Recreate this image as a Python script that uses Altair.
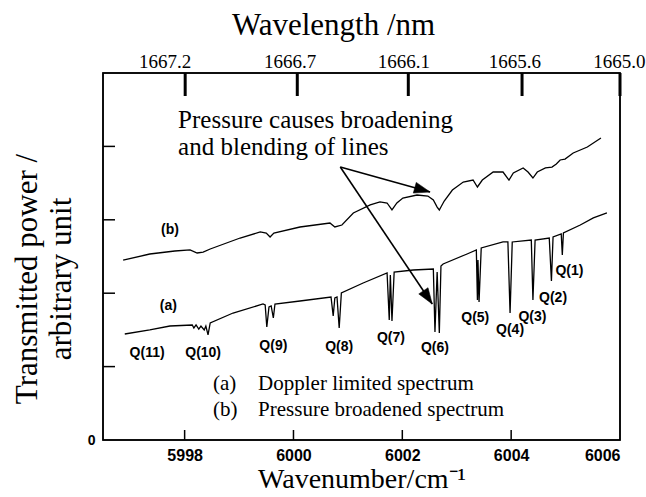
import math
import altair as alt
import pandas as pd

# Spectrum (b): pressure broadened
b_wn = [5996.87, 5997.36, 5997.82, 5998.10, 5998.23, 5998.34, 5998.47, 5999.02, 5999.39,
        5999.50, 5999.57, 5999.64, 6000.12, 6000.67, 6000.76, 6000.89, 6001.10, 6001.41,
        6001.59, 6001.72, 6001.81, 6001.90, 6002.01, 6002.27, 6002.47, 6002.57, 6002.64,
        6002.68, 6002.71, 6002.77, 6002.92, 6003.12, 6003.30, 6003.38, 6003.47, 6003.67,
        6003.85, 6003.96, 6004.04, 6004.22, 6004.31, 6004.40, 6004.48, 6004.63, 6004.75,
        6004.83, 6004.90, 6004.99, 6005.14, 6005.40, 6005.65]
b_pw = [2.452, 2.534, 2.575, 2.589, 2.548, 2.561, 2.602, 2.752, 2.834,
        2.820, 2.766, 2.820, 2.902, 2.956, 2.902, 2.929, 3.093, 3.202,
        3.243, 3.229, 3.134, 3.229, 3.297, 3.338, 3.324, 3.270, 3.174,
        3.134, 3.174, 3.256, 3.406, 3.515, 3.542, 3.447, 3.542, 3.651,
        3.651, 3.542, 3.638, 3.706, 3.651, 3.569, 3.651, 3.706, 3.719,
        3.760, 3.815, 3.828, 3.910, 3.992, 4.114]

# Spectrum (a): Doppler limited
a_wn = [5996.90, 5997.36, 5997.73, 5998.14, 5998.17, 5998.21, 5998.26, 5998.30, 5998.36,
        5998.39, 5998.43, 5998.47, 5998.89, 5999.44, 5999.48, 5999.51, 5999.55, 5999.59,
        5999.63, 5999.66, 6000.12, 6000.69, 6000.73, 6000.76, 6000.80, 6000.84, 6000.88,
        6001.28, 6001.72, 6001.76, 6001.78, 6001.81, 6001.85, 6002.20, 6002.57, 6002.60,
        6002.64, 6002.68, 6002.71, 6002.75, 6003.19, 6003.36, 6003.38, 6003.39, 6003.41,
        6003.45, 6003.85, 6003.94, 6003.98, 6004.02, 6004.37, 6004.40, 6004.44, 6004.70,
        6004.74, 6004.77, 6004.92, 6004.94, 6004.96, 6005.27, 6005.51, 6005.76]
a_pw = [1.444, 1.499, 1.553, 1.567, 1.526, 1.567, 1.512, 1.553, 1.499,
        1.553, 1.431, 1.594, 1.730, 1.853, 1.839, 1.540, 1.812, 1.826,
        1.662, 1.853, 1.894, 1.948, 1.689, 1.935, 1.948, 1.526, 2.003,
        2.139, 2.275, 1.635, 2.248, 1.621, 2.289, 2.316, 2.330, 1.471,
        2.289, 1.458, 2.371, 2.398, 2.534, 2.589, 1.907, 2.452, 1.880,
        2.616, 2.698, 2.698, 1.730, 2.698, 2.725, 1.907, 2.725, 2.752,
        2.166, 2.766, 2.807, 2.520, 2.820, 2.929, 3.025, 3.093]

# Q-branch line labels
q_names = ["Q(11)", "Q(10)", "Q(9)", "Q(8)", "Q(7)", "Q(6)", "Q(5)", "Q(4)", "Q(3)", "Q(2)", "Q(1)"]
q_wn = [5997.31, 5998.34, 5999.63, 6000.84, 6001.79, 6002.60, 6003.34, 6003.98, 6004.39, 6004.77, 6005.07]
q_pw = [1.185, 1.185, 1.281, 1.267, 1.390, 1.253, 1.662, 1.499, 1.676, 1.935, 2.302]

# Curve tags
tag_text = ["(b)", "(a)"]
tag_wn = [5997.73, 5997.70]
tag_pw = [2.861, 1.826]

# Annotation and its arrows
note_lines = ["Pressure causes broadening", "and blending of lines"]
note_wn = 5997.88
note_pw = 4.251
arrow_from = (6000.86, 3.719)
arrow_to_wn = [6002.51, 6002.55]
arrow_to_pw = [3.379, 1.853]

# Key
key_tags = ["(a)", "(b)"]
key_text = ["Doppler limited spectrum", "Pressure broadened spectrum"]
key_pw = [0.763, 0.409]
key_tag_wn = 5998.52
key_text_wn = 5999.35

# Axes
bottom_ticks = [5998, 6000, 6002, 6004, 6006]
left_ticks = [1, 2, 3, 4]
top_tick_wn = [5998.01, 6000.07, 6002.11, 6004.20, 6006.0]
top_label_wn = [5997.64, 5999.94, 6002.03, 6004.07, 6005.99]
top_tick_labels = ["1667.2", "1666.7", "1666.1", "1665.6", "1665.0"]

X_DOM = [5996.5, 6006.0]
Y_DOM = [0, 5]
W, H = 517, 367
SERIF = "Liberation Serif"
SANS = "Liberation Sans"

xs = alt.Scale(domain=X_DOM, nice=False, zero=False)
ys = alt.Scale(domain=Y_DOM, nice=False, zero=False)


def X(field):
    return alt.X(field, scale=xs, axis=None)


def Y(field):
    return alt.Y(field, scale=ys, axis=None)


spec = pd.DataFrame({
    "wn": b_wn + a_wn,
    "pw": b_pw + a_pw,
    "curve": ["b"] * len(b_wn) + ["a"] * len(a_wn),
    "i": list(range(len(b_wn))) + list(range(len(a_wn))),
})

bottom_axis = alt.Axis(values=bottom_ticks, format="d", ticks=False, domain=False, grid=False,
                       labelFont=SANS, labelFontSize=16, labelFontWeight="bold", labelColor="black",
                       labelPadding=7, title="Wavenumber/cm\u207b\u00b9", titleFont=SERIF,
                       titleFontSize=28, titleFontWeight="normal", titleColor="black", titlePadding=2)
left_axis = alt.Axis(values=[0], labelExpr="'0'", ticks=False, domain=False, grid=False,
                     labelFont=SANS, labelFontSize=14, labelFontWeight="bold", labelColor="black",
                     labelPadding=8, title=["Transmitted power /", "arbitrary unit"],
                     titleFont=SERIF, titleFontSize=31, titleFontWeight="normal", titleColor="black",
                     titleLineHeight=34, titlePadding=10, titleY=H / 2 + 22)

lines = alt.Chart(spec).mark_line(color="black", strokeWidth=1.3).encode(
    x=alt.X("wn:Q", scale=xs, axis=bottom_axis),
    y=alt.Y("pw:Q", scale=ys, axis=left_axis),
    detail="curve:N",
    order="i:Q",
)

# plot frame
frame = alt.Chart(pd.DataFrame({"f": [0]})).mark_rect(fill=None, stroke="black", strokeWidth=1.5).encode(
    x=alt.value(0), x2=alt.value(W), y=alt.value(0), y2=alt.value(H))

qdf = pd.DataFrame({"name": q_names, "wn": q_wn, "pw": q_pw})
qlabels = alt.Chart(qdf).mark_text(font=SANS, fontSize=14, fontWeight="bold", color="black",
                                   align="center", baseline="middle").encode(
    x=X("wn:Q"), y=Y("pw:Q"), text="name:N")

tdf = pd.DataFrame({"t": tag_text, "wn": tag_wn, "pw": tag_pw})
tags = alt.Chart(tdf).mark_text(font=SANS, fontSize=14, fontWeight="bold", color="black",
                                align="center", baseline="middle").encode(
    x=X("wn:Q"), y=Y("pw:Q"), text="t:N")

ndf = pd.DataFrame({"wn": [note_wn], "pw": [note_pw], "t": ["\n".join(note_lines)]})
note = alt.Chart(ndf).mark_text(font=SERIF, fontSize=25, color="black", align="left",
                                baseline="alphabetic", lineBreak="\n", lineHeight=27).encode(
    x=X("wn:Q"), y=Y("pw:Q"), text="t:N")

# arrow shafts and heads
sx = W / (X_DOM[1] - X_DOM[0])
sy = H / (Y_DOM[1] - Y_DOM[0])
angles = []
for xe, ye in zip(arrow_to_wn, arrow_to_pw):
    dx = (xe - arrow_from[0]) * sx
    dy = -(ye - arrow_from[1]) * sy
    angles.append(math.degrees(math.atan2(dx, -dy)) % 360)
adf = pd.DataFrame({"x0": [arrow_from[0]] * 2, "y0": [arrow_from[1]] * 2,
                    "x1": arrow_to_wn, "y1": arrow_to_pw, "ang": angles})
shafts = alt.Chart(adf).mark_rule(color="black", strokeWidth=1.6).encode(
    x=X("x0:Q"), y=Y("y0:Q"), x2="x1:Q", y2="y1:Q")
heads = alt.Chart(adf).mark_point(shape="M0,0L-0.42,1.2L0.42,1.2Z", filled=True, fill="black",
                                  stroke="black", strokeWidth=0.5, size=700, opacity=1).encode(
    x=X("x1:Q"), y=Y("y1:Q"), angle=alt.Angle("ang:Q", scale=None))

kdf = pd.DataFrame({"tag": key_tags, "txt": key_text, "pw": key_pw,
                    "xt": [key_tag_wn] * 2, "xx": [key_text_wn] * 2})
key_a = alt.Chart(kdf).mark_text(font=SERIF, fontSize=21, color="black", align="left",
                                 baseline="middle").encode(
    x=X("xt:Q"), y=Y("pw:Q"), text="tag:N")
key_b = alt.Chart(kdf).mark_text(font=SERIF, fontSize=21, color="black", align="left",
                                 baseline="middle").encode(
    x=X("xx:Q"), y=Y("pw:Q"), text="txt:N")

# inward tick marks on the bottom, left and top edges
bt = alt.Chart(pd.DataFrame({"v": bottom_ticks[:-1]})).mark_rule(color="black", strokeWidth=1.5).encode(
    x=X("v:Q"), y=alt.value(H - 10), y2=alt.value(H))
lt = alt.Chart(pd.DataFrame({"v": left_ticks})).mark_rule(color="black", strokeWidth=1.5).encode(
    y=Y("v:Q"), x=alt.value(0), x2=alt.value(12))
tt = alt.Chart(pd.DataFrame({"v": top_tick_wn})).mark_rule(color="black", strokeWidth=3).encode(
    x=X("v:Q"), y=alt.value(0), y2=alt.value(23))

# wavelength scale along the top edge
tldf = pd.DataFrame({"v": top_label_wn, "t": top_tick_labels})
tl = alt.Chart(tldf).mark_text(font=SERIF, fontSize=19, color="black", align="center",
                               baseline="alphabetic").encode(
    x=X("v:Q"), y=alt.value(-5), text="t:N")

chart = alt.layer(lines, frame, qlabels, tags, note, shafts, heads, key_a, key_b, bt, lt, tt, tl).resolve_axis(
    x="independent", y="independent"
).properties(
    width=W, height=H,
    autosize=alt.AutoSizeParams(type="none"),
    padding={"left": 103, "top": 73, "right": 26, "bottom": 57},
    title=alt.TitleParams("Wavelength /nm", font=SERIF, fontSize=31, fontWeight="normal",
                          color="black", anchor="middle", offset=11, dx=-28),
).configure(background="white").configure_view(stroke="black", strokeWidth=1.5)

chart.save("out.html", embed_options={"renderer": "svg", "actions": False})
